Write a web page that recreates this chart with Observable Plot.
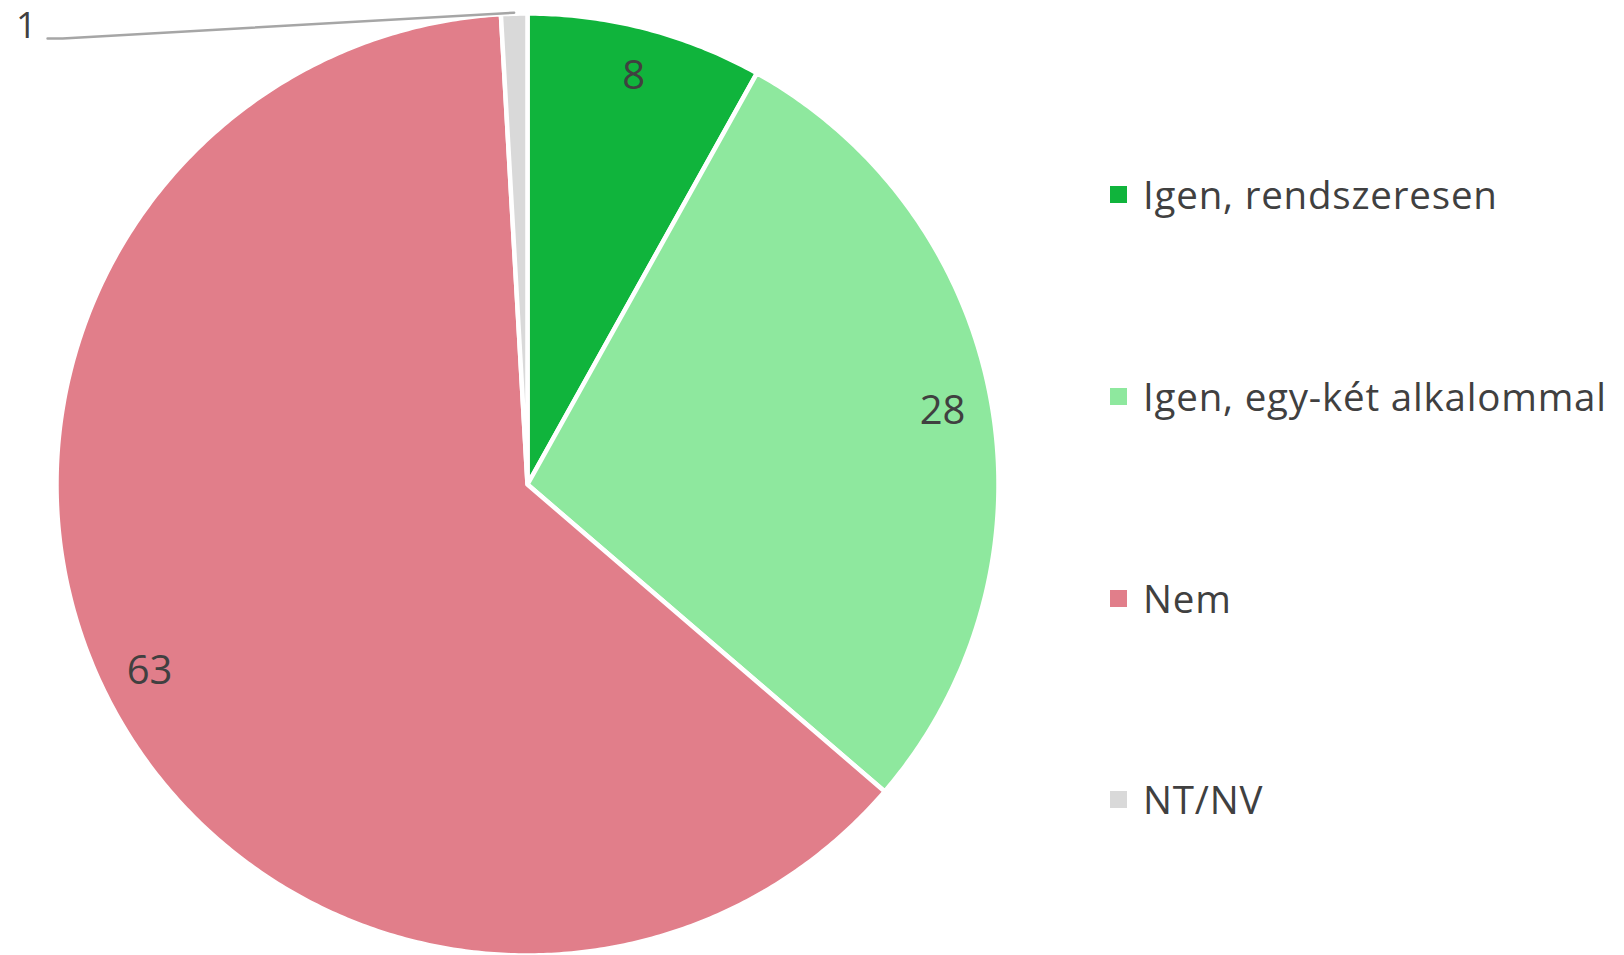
<!DOCTYPE html>
<html>
<head>
<meta charset="utf-8">
<script src="https://cdn.jsdelivr.net/npm/d3@7"></script>
<script src="https://cdn.jsdelivr.net/npm/@observablehq/plot@0.6"></script>
<style>
  html, body { margin: 0; padding: 0; background: #fff; }
  #wrap { position: relative; width: 1624px; height: 955px; overflow: hidden; font-family: "Open Sans", sans-serif; }
  #legend { position: absolute; left: 1110px; top: 0; }
  .item { position: absolute; left: 0; display: flex; align-items: center; white-space: nowrap; height: 60px; }
  .sw { width: 17px; height: 17px; margin-right: 16px; }
  .lbl { font-size: 38.5px; letter-spacing: 0.8px; color: #404040; line-height: 60px; }
</style>
</head>
<body>
<div id="wrap"><div id="chart"></div><div id="legend"></div></div>
<script>
// ---- data ----
const categories = ["Igen, rendszeresen", "Igen, egy-két alkalommal", "Nem", "NT/NV"];
const values = [8.1, 28.2, 62.8, 0.9];
const colors = ["#10b43c", "#8ee89e", "#e17e8a", "#d9d9d9"];

// ---- layout constants ----
const W = 1624, H = 955;
const CX = 527, CY = 484, R = 471;      // pie centre and radius in pixels
const labelR = 0.895;                    // inside-label radius (fraction of R)
const outsideLabel = { x: -1.064, y: 0.972 }; // position of the small-slice label (pie units)
const legendTop = [194, 396, 598, 799];  // legend row centres (px)

// ---- geometry from data ----
const total = d3.sum(values);
let acc = 0;
const slices = categories.map((c, i) => {
  const a0 = acc / total * 2 * Math.PI;
  acc += values[i];
  const a1 = acc / total * 2 * Math.PI;
  return { cat: c, value: values[i], a0, a1, mid: (a0 + a1) / 2 };
});
const pt = (a, r) => ({ x: r * Math.sin(a), y: r * Math.cos(a) });

const polyPts = [];
for (const s of slices) {
  polyPts.push({ cat: s.cat, ...pt(0, 0) });
  const n = Math.max(4, Math.ceil((s.a1 - s.a0) / (Math.PI / 360)));
  for (let k = 0; k <= n; k++) {
    const a = s.a0 + (s.a1 - s.a0) * k / n;
    polyPts.push({ cat: s.cat, ...pt(a, 1) });
  }
}

const fmt = v => String(Math.round(v));
const inside = slices.filter(s => s.value >= 5).map(s => ({ text: fmt(s.value), ...pt(s.mid, labelR) }));
const small = slices.filter(s => s.value < 5);
const outside = small.map(s => ({ text: fmt(s.value), ...outsideLabel }));
const leader = small.flatMap(s => {
  const end = pt(s.mid, 1.002);
  const sx = outsideLabel.x + 0.045, sy = outsideLabel.y - 0.025;
  return [
    { id: s.cat, x: sx, y: sy },
    { id: s.cat, x: sx + 0.032, y: sy },
    { id: s.cat, ...end }
  ];
});

const chart = Plot.plot({
  width: W,
  height: H,
  margin: 0,
  x: { domain: [-CX / R, (W - CX) / R], axis: null },
  y: { domain: [-(H - CY) / R, CY / R], axis: null },
  color: { domain: categories, range: colors },
  style: { fontFamily: "Open Sans, sans-serif", background: "white" },
  marks: [
    Plot.line(polyPts, {
      x: "x", y: "y", z: "cat", fill: "cat",
      stroke: "white", strokeWidth: 4.5, strokeLinejoin: "miter", strokeMiterlimit: 4,
      curve: "linear-closed"
    }),
    Plot.line(leader, { x: "x", y: "y", z: "id", stroke: "#a6a6a6", strokeWidth: 2.5, strokeLinejoin: "round" }),
    Plot.text(inside, { x: "x", y: "y", text: "text", fontSize: 40, fill: "#404040" }),
    Plot.text(outside, { x: "x", y: "y", text: "text", fontSize: 36, fill: "#404040" })
  ]
});
document.getElementById("chart").appendChild(chart);

// ---- legend ----
const legend = d3.select("#legend");
categories.forEach((c, i) => {
  const it = legend.append("div").attr("class", "item").style("top", (legendTop[i] - 30) + "px");
  it.append("div").attr("class", "sw").style("background", colors[i]);
  it.append("span").attr("class", "lbl").text(c);
});
</script>
</body>
</html>
